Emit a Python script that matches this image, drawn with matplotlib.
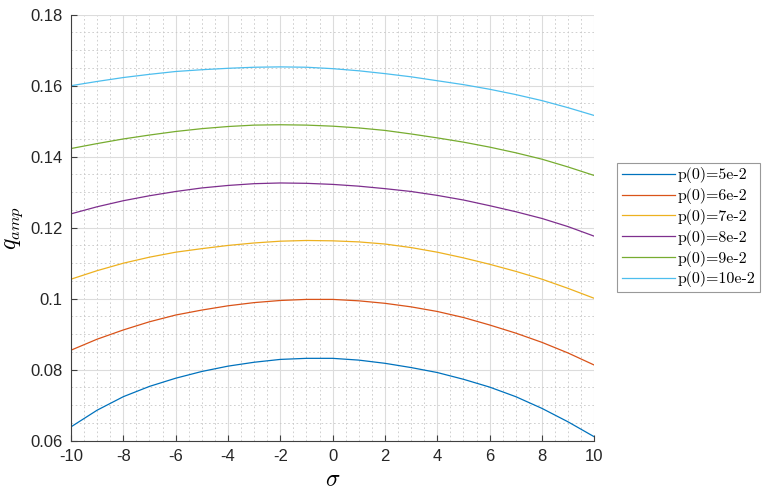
import matplotlib
matplotlib.use("Agg")
import matplotlib.pyplot as plt
from matplotlib.ticker import MultipleLocator

plt.rcParams['axes.unicode_minus'] = False
plt.rcParams['mathtext.fontset'] = 'cm'

sigma = [-10, -9, -8, -7, -6, -5, -4, -3, -2, -1, 0, 1, 2, 3, 4, 5, 6, 7, 8, 9, 10]
q_p5 = [0.0639, 0.0686, 0.0724, 0.0753, 0.0776, 0.0795, 0.0810, 0.0821, 0.0829, 0.0832, 0.0832,
        0.0827, 0.0818, 0.0806, 0.0792, 0.0773, 0.0751, 0.0724, 0.0691, 0.0653, 0.0611]
q_p6 = [0.0855, 0.0886, 0.0912, 0.0935, 0.0954, 0.0968, 0.0980, 0.0989, 0.0995, 0.0998, 0.0998,
        0.0994, 0.0987, 0.0977, 0.0964, 0.0947, 0.0926, 0.0903, 0.0877, 0.0847, 0.0813]
q_p7 = [0.1055, 0.1079, 0.1100, 0.1117, 0.1131, 0.1141, 0.1150, 0.1157, 0.1162, 0.1164, 0.1163,
        0.1160, 0.1154, 0.1144, 0.1131, 0.1115, 0.1097, 0.1077, 0.1055, 0.1029, 0.1001]
q_p8 = [0.1239, 0.1259, 0.1276, 0.1290, 0.1302, 0.1312, 0.1319, 0.1324, 0.1326, 0.1325, 0.1322,
        0.1317, 0.1310, 0.1302, 0.1291, 0.1278, 0.1262, 0.1245, 0.1226, 0.1203, 0.1176]
q_p9 = [0.1423, 0.1437, 0.1450, 0.1461, 0.1471, 0.1479, 0.1485, 0.1489, 0.1490, 0.1489, 0.1486,
        0.1481, 0.1474, 0.1464, 0.1453, 0.1441, 0.1427, 0.1411, 0.1393, 0.1371, 0.1347]
q_p10 = [0.1600, 0.1612, 0.1623, 0.1632, 0.1640, 0.1645, 0.1649, 0.1652, 0.1653, 0.1652, 0.1648,
         0.1642, 0.1634, 0.1625, 0.1614, 0.1603, 0.1590, 0.1575, 0.1558, 0.1538, 0.1516]

labels = ["p(0)=5e-2", "p(0)=6e-2", "p(0)=7e-2", "p(0)=8e-2", "p(0)=9e-2", "p(0)=10e-2"]
series = [q_p5, q_p6, q_p7, q_p8, q_p9, q_p10]
colors = ["#0072BD", "#D95319", "#EDB120", "#7E2F8E", "#77AC30", "#4DBEEE"]

xticks = [-10, -8, -6, -4, -2, 0, 2, 4, 6, 8, 10]
xticklabels = ["-10", "-8", "-6", "-4", "-2", "0", "2", "4", "6", "8", "10"]
yticks = [0.06, 0.08, 0.10, 0.12, 0.14, 0.16, 0.18]
yticklabels = ["0.06", "0.08", "0.1", "0.12", "0.14", "0.16", "0.18"]

fig = plt.figure(figsize=(7.62, 4.93), dpi=100)
ax = fig.add_axes([71/762, 1-440.7/493, (594.3-71)/762, (440.7-14.7)/493])

lines = []
for ys, c, lab in zip(series, colors, labels):
    ln, = ax.plot(sigma, ys, color=c, lw=0.9, label=lab)
    lines.append(ln)

ax.set_xlim(-10, 10)
ax.set_ylim(0.06, 0.18)
ax.set_xticks(xticks)
ax.set_xticklabels(xticklabels)
ax.set_yticks(yticks)
ax.set_yticklabels(yticklabels)
ax.xaxis.set_minor_locator(MultipleLocator(0.5))
ax.yaxis.set_minor_locator(MultipleLocator(0.005))

ax.grid(True, which='major', color='#dcdcdc', lw=0.8, ls='-')
ax.grid(True, which='minor', color='#c8c8c8', lw=0.6, ls=(0, (2, 3)))
ax.set_axisbelow(True)

for s in ['top', 'right']:
    ax.spines[s].set_visible(False)
for s in ['left', 'bottom']:
    ax.spines[s].set_color('#404040')
    ax.spines[s].set_linewidth(0.8)

ax.tick_params(which='major', direction='in', length=4, width=0.8, color='#404040',
               labelsize=12, labelcolor='#262626', pad=6)
ax.tick_params(which='minor', length=0)
for t in ax.get_xticklabels() + ax.get_yticklabels():
    t.set_fontfamily('Liberation Sans')

ax.set_xlabel(r'$\sigma$', fontsize=17, labelpad=2)
ax.set_ylabel(r'$q_{amp}$', fontsize=17, labelpad=4)

leg = fig.legend(handles=lines, labels=labels, loc='upper left',
                 bbox_to_anchor=(617/762, 1-162.7/493), bbox_transform=fig.transFigure,
                 prop={'family': 'cmr10', 'size': 11.5}, frameon=True, fancybox=False,
                 edgecolor='#808080', borderpad=0.3, handlelength=3.3, handletextpad=0.2,
                 labelspacing=0.3, borderaxespad=0)
leg.get_frame().set_linewidth(0.8)

fig.savefig("out.png", dpi=100)
